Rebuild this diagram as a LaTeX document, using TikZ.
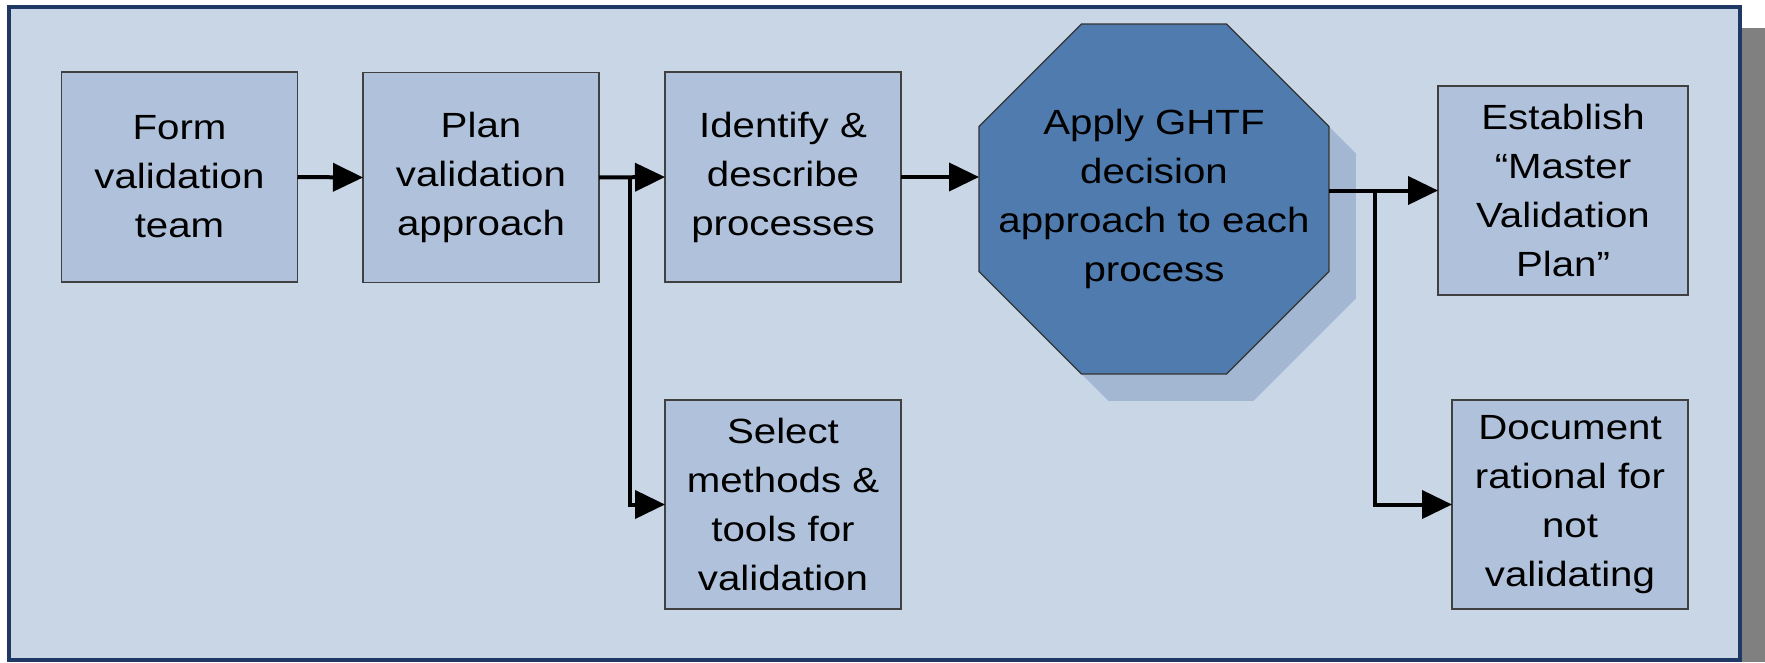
\documentclass[tikz,border=0pt]{standalone}
\usepackage{fontspec}
\setmainfont{Liberation Sans}[FakeStretch=1.15]
\usetikzlibrary{arrows.meta,shapes.geometric}
\definecolor{framefill}{RGB}{200,214,230}
\definecolor{framedraw}{RGB}{31,56,100}
\definecolor{boxfill}{RGB}{176,194,219}
\definecolor{boxdraw}{RGB}{64,64,64}
\definecolor{octfill}{RGB}{79,123,174}
\definecolor{octshadow}{RGB}{163,183,211}
\definecolor{sidegray}{RGB}{128,128,128}
\tikzset{
  txt/.style={align=center, font=\fontsize{35}{49}\selectfont},
  stepbox/.style={txt, draw=boxdraw, line width=1.2pt, fill=boxfill, inner sep=0pt, outer sep=0pt,
    minimum width=236pt, minimum height=210pt},
  octo/.style={regular polygon, regular polygon sides=8, minimum size=378.8pt, inner sep=0pt, outer sep=0pt},
  flow/.style={line width=4pt, -{Triangle[length=30pt,width=28pt]}},
}
\begin{document}
\begin{tikzpicture}[x=1pt,y=-1pt]
\useasboundingbox (0,0) rectangle (1765,662);
\fill[sidegray] (1740,28) rectangle (1765,662);
\draw[framedraw, line width=3.5pt, fill=framefill] (9,7) rectangle (1740,660);

\node[octo, fill=octshadow] (octshade) at (1181,226) {};
\node[octo, fill=octfill, draw=black!80, line width=1.2pt] (oct) at (1154,199) {};
\node[txt, inner sep=0pt] (octtext) at (oct.center) {Apply GHTF\\decision\\approach to each\\process};

\node[stepbox] (form) at (179.5,177) {Form\\validation\\team};
\node[stepbox] (plan) at (481,177.5) {Plan\\validation\\approach};
\node[stepbox] (ident) at (783,177) {Identify \&\\describe\\processes};
\node[stepbox, minimum height=209pt] (select) at (783,504.5) {Select\\methods \&\\tools for\\validation};
\node[stepbox, minimum width=250pt, minimum height=209pt] (estab) at (1563,190.5) {Establish\\“Master\\Validation\\Plan”};
\node[stepbox, minimum height=209pt] (docu) at (1570,504.5) {Document\\rational for\\not\\validating};

\draw[flow] (form.east) -- (plan.west);
\path (plan.east) ++(31,0) coordinate (j1);
\draw[flow] (plan.east) -- (ident.west);
\draw[flow] (j1) |- (select.west);
\draw[flow] (ident.east) -- (ident.east -| oct.west);
\coordinate (m) at (estab.west -| oct.east);
\draw[flow] (m) -- (estab.west);
\path (m) ++(46,0) coordinate (j2);
\draw[flow] (j2) |- (docu.west);
\end{tikzpicture}
\end{document}
